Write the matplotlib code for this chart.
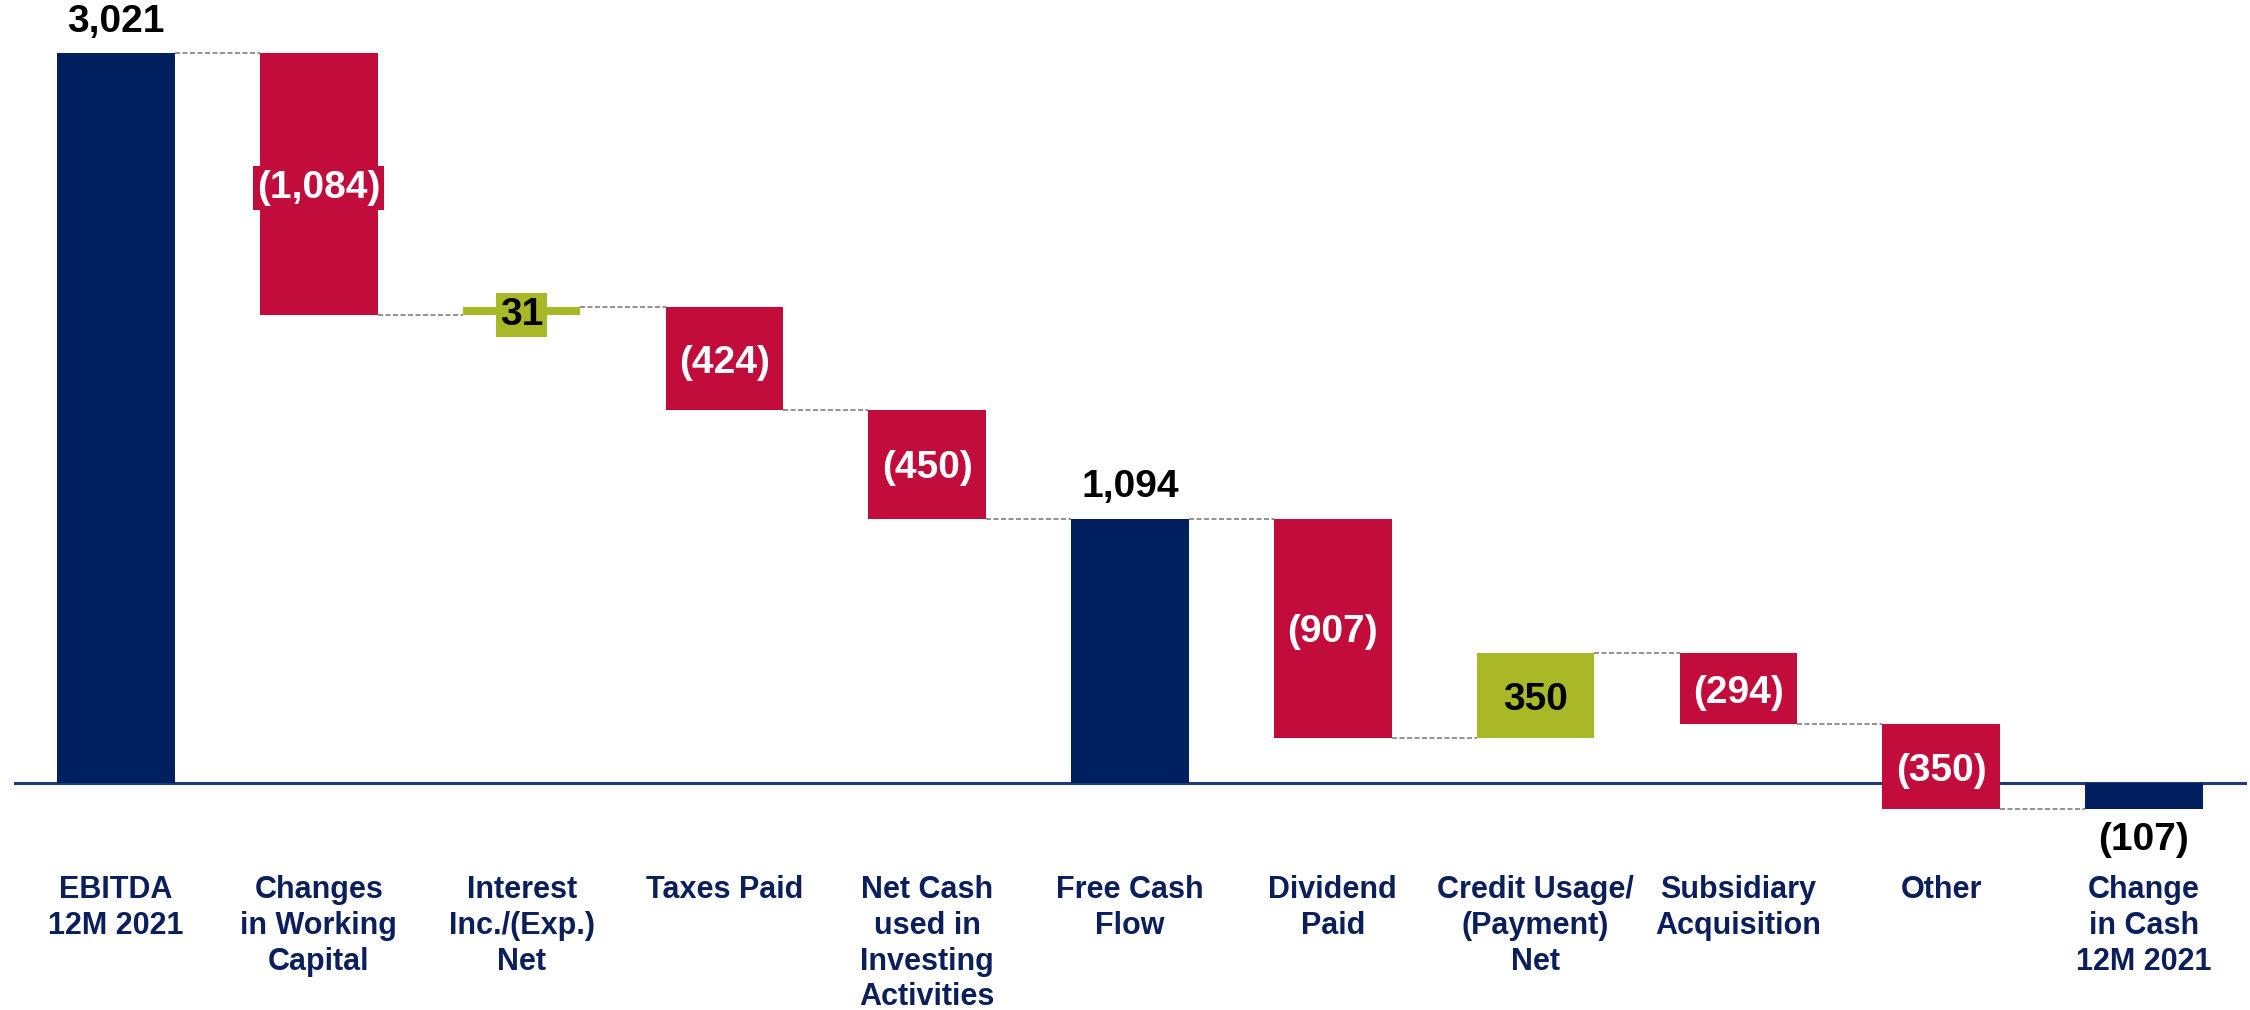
import matplotlib
matplotlib.use('Agg')
import matplotlib.pyplot as plt

plt.rcParams['font.family'] = ['Liberation Sans', 'DejaVu Sans']

# ====================== data ======================
categories = ['EBITDA\n12M 2021', 'Changes\nin Working\nCapital', 'Interest\nInc./(Exp.)\nNet',
              'Taxes Paid', 'Net Cash\nused in\nInvesting\nActivities', 'Free Cash\nFlow',
              'Dividend\nPaid', 'Credit Usage/\n(Payment)\nNet', 'Subsidiary\nAcquisition',
              'Other', 'Change\nin Cash\n12M 2021']
values = [3021, -1084, 31, -424, -450, 1094, -907, 350, -294, -350, -107]
is_total = [True, False, False, False, False, True, False, False, False, False, True]

NAVY = '#001F5F'
RED = '#C20D3C'
GREEN = '#A8B826'
TEXT_NAVY = '#0A1F5C'

# ====================== waterfall geometry ======================
bottoms, tops, ends = [], [], []
running = 0
for v, tot in zip(values, is_total):
    if tot:
        lo, hi = min(0, v), max(0, v)
        running = v
    else:
        start = running
        running = running + v
        lo, hi = min(start, running), max(start, running)
    bottoms.append(lo)
    tops.append(hi)
    ends.append(running)

# ====================== plot ======================
fig = plt.figure(figsize=(22.5, 10.1), dpi=100)
ax = fig.add_axes([0, 0, 1, 1])
ax.set_xlim(-0.572, 10.523)
ax.set_ylim(-939, 3240)
ax.axis('off')

width = 0.58
x = list(range(len(values)))
colors = []
for v, tot in zip(values, is_total):
    if tot:
        colors.append(NAVY)
    elif v < 0:
        colors.append(RED)
    else:
        colors.append(GREEN)

heights = [t - b for t, b in zip(tops, bottoms)]
ax.bar(x, heights, bottom=bottoms, width=width, color=colors, zorder=3)

# baseline
ax.plot([-0.5, 10.5], [0, 0], color='#1F3A78', lw=2.2, zorder=2)

# connectors
for i in range(len(values) - 1):
    ax.plot([i + width / 2, i + 1 - width / 2], [ends[i], ends[i]],
            color='#7F7F7F', lw=1.2, linestyle=(0, (3, 1.5)), zorder=2)


def fmt(v):
    s = f'{abs(v):,}'
    return f'({s})' if v < 0 else s


# value labels
for i, (v, tot) in enumerate(zip(values, is_total)):
    if tot:
        if v >= 0:
            ax.text(i, tops[i] + 55, fmt(v), ha='center', va='bottom',
                    fontsize=28, fontweight='bold', color='black', zorder=5)
        else:
            ax.text(i, bottoms[i] - 55, fmt(v), ha='center', va='top',
                    fontsize=28, fontweight='bold', color='black', zorder=5)
    else:
        mid = (tops[i] + bottoms[i]) / 2
        tc = 'white' if v < 0 else 'black'
        ax.text(i, mid, fmt(v), ha='center', va='center_baseline',
                fontsize=28, fontweight='bold', color=tc, zorder=5,
                bbox=dict(boxstyle='square,pad=0.1', fc=colors[i], ec='none'))

# category labels
for i, c in enumerate(categories):
    ax.text(i, -381, c, ha='center', va='top', fontsize=22, fontweight='bold',
            color=TEXT_NAVY, linespacing=1.25)

fig.savefig('out.png', dpi=100)
